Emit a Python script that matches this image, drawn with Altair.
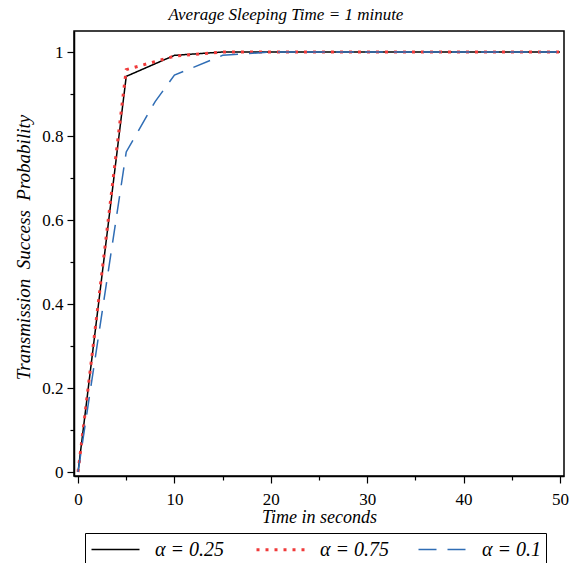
import altair as alt
import pandas as pd

# ---- data ----
t_main = [0, 5, 10, 15, 20, 25, 30, 35, 40, 45, 50]
p_a025 = [0, 0.942, 0.992, 1.0, 1.0, 1.0, 1.0, 1.0, 1.0, 1.0, 1.0]
p_a075 = [0, 0.958, 0.99, 1.0, 1.0, 1.0, 1.0, 1.0, 1.0, 1.0, 1.0]
t_blue = [0, 5, 8, 10, 15, 20, 25, 30, 35, 40, 45, 50]
p_a01 = [0, 0.762, 0.882, 0.945, 0.992, 1.0, 1.0, 1.0, 1.0, 1.0, 1.0, 1.0]

series = ["α = 0.25", "α = 0.75", "α = 0.1"]
colors = ["#000000", "#f03a3a", "#2f6db5"]
dashes = [[1, 0], [3, 6], [18, 11]]
widths = [1.5, 3, 1.5]

x_ticks = [0, 5, 10, 15, 20, 25, 30, 35, 40, 45, 50]
y_ticks = [0, 0.1, 0.2, 0.3, 0.4, 0.5, 0.6, 0.7, 0.8, 0.9, 1.0]

rows = []
for name, ts, ps in [(series[0], t_main, p_a025), (series[1], t_main, p_a075), (series[2], t_blue, p_a01)]:
    for t, p in zip(ts, ps):
        rows.append({"t": t, "p": p, "series": name})
df = pd.DataFrame(rows)

FONT = "'Liberation Serif', 'Times New Roman', 'DejaVu Serif', serif"
GAP = "\u00a0\u00a0"

chart = alt.Chart(df).mark_line(clip=True, strokeCap="butt").encode(
    x=alt.X(
        "t:Q",
        scale=alt.Scale(domain=[-0.42, 50.42], nice=False, zero=False),
        axis=alt.Axis(
            title="Time in seconds",
            values=x_ticks,
            format="d",
            labelExpr="datum.value % 10 == 0 ? datum.label : ''",
            tickSize={"condition": {"test": "datum.value % 10 == 0", "value": 7}, "value": 4},
            labelBaseline="alphabetic",
            labelPadding=21,
            titleY=46,
            titleBaseline="alphabetic",
        ),
    ),
    y=alt.Y(
        "p:Q",
        scale=alt.Scale(domain=[-0.0095, 1.05], nice=False, zero=False),
        axis=alt.Axis(
            title="Transmission" + GAP + "Success" + GAP + "Probability",
            values=y_ticks,
            format="~g",
            labelExpr="round(datum.value * 10) % 2 == 0 ? datum.label : ''",
            tickSize={"condition": {"test": "round(datum.value * 10) % 2 == 0", "value": 7}, "value": 4},
            labelPadding=4,
            titleX=-45,
            titleY=216,
            titleFontSize=19,
            titleBaseline="alphabetic",
        ),
    ),
    color=alt.Color("series:N", scale=alt.Scale(domain=series, range=colors), sort=series, legend=alt.Legend(title=None)),
    strokeDash=alt.StrokeDash("series:N", scale=alt.Scale(domain=series, range=dashes), sort=series, legend=alt.Legend(title=None)),
    strokeWidth=alt.StrokeWidth("series:O", scale=alt.Scale(type="ordinal", domain=series, range=widths), sort=series, legend=alt.Legend(title=None)),
).properties(
    width=490,
    height=445,
    autosize=alt.AutoSizeParams(type="none"),
    padding={"left": 74, "top": 31, "right": 11, "bottom": 87},
    title=alt.Title(
        "Average Sleeping Time = 1 minute",
        font=FONT,
        fontStyle="italic",
        fontWeight="normal",
        fontSize=17,
        color="black",
        anchor="middle",
        dx=-33,
        dy=18,
        offset=12,
        baseline="alphabetic",
    ),
).configure_view(
    stroke="black", strokeWidth=1.5
).configure_axis(
    grid=False,
    domainColor="black",
    domainWidth=1.5,
    tickColor="black",
    tickWidth=1.2,
    labelFont=FONT,
    labelFontSize=17,
    labelColor="black",
    titleFont=FONT,
    titleFontStyle="italic",
    titleFontWeight="normal",
    titleFontSize=18,
    titleColor="black",
).configure_legend(
    orient="none",
    legendX=11,
    legendY=502,
    direction="horizontal",
    columns=3,
    strokeColor="black",
    padding=5,
    labelFont=FONT,
    labelFontStyle="italic",
    labelFontSize=20,
    labelColor="black",
    symbolType="M-2.4,0H2.4",
    symbolSize=400,
    symbolOffset=14,
    labelOffset=28,
    columnPadding=26,
)

chart.save("out.html", embed_options={"renderer": "svg", "actions": False})
